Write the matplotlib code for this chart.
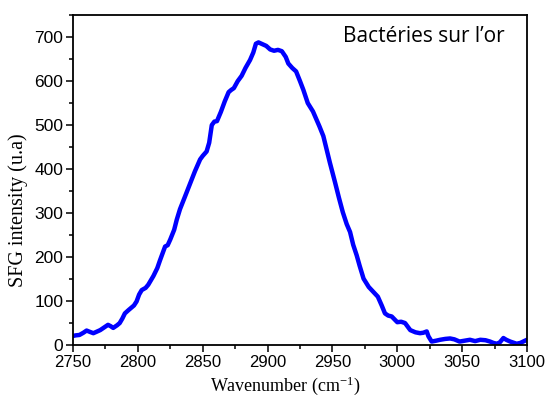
import matplotlib
matplotlib.use('Agg')
import matplotlib.pyplot as plt
from matplotlib.ticker import MultipleLocator

# SFG spectrum, C-H stretching region
wavenumber = [2749, 2752, 2755, 2758, 2760.5, 2763, 2765.7, 2768, 2771, 2774, 2777, 2779,
              2781, 2784, 2786, 2788, 2790, 2793, 2795, 2797, 2799, 2801, 2803, 2806,
              2808, 2810, 2812, 2815, 2817, 2819, 2821, 2823, 2825, 2828, 2830, 2832.5,
              2836, 2840, 2844, 2848, 2850, 2853, 2855, 2857, 2859, 2861, 2864, 2867,
              2870, 2872, 2874, 2877, 2880, 2883, 2886.5, 2889, 2891, 2893, 2896, 2899,
              2902, 2905, 2908, 2911, 2914, 2916, 2919, 2922, 2925, 2927.6, 2931, 2935,
              2940, 2943, 2948, 2952, 2955, 2958, 2961, 2963.6, 2966, 2968.7, 2971, 2974,
              2978, 2981.5, 2985, 2988, 2990.5, 2993, 2995.7, 2998, 3000, 3003, 3006,
              3010, 3014, 3017.5, 3020, 3022.7, 3024, 3026.5, 3030, 3033, 3037, 3040.7,
              3044, 3048, 3052, 3056, 3060, 3064, 3068, 3071.5, 3074, 3076.7, 3079,
              3081.8, 3084, 3087, 3090, 3092, 3095, 3098.5, 3100]
intensity = [20, 22, 23, 28, 33, 30, 27, 30, 34, 40, 46, 43,
             39, 45, 50, 60, 72, 80, 85, 90, 99, 115, 125, 130,
             137, 147, 157, 175, 192, 208, 224, 227, 240, 262, 285, 309,
             335, 365, 395, 422, 430, 440, 460, 500, 508, 509, 530, 554,
             575, 580, 584, 600, 612, 630, 648, 665, 685, 688, 684, 680,
             672, 669, 671, 668, 655, 640, 630, 622, 600, 580, 550, 531,
             497, 475, 415, 370, 335, 302, 275, 257, 228, 204, 180, 151,
             132, 121, 110, 90, 72, 67, 65, 58, 52, 53, 50,
             34, 29, 27, 28, 31, 20, 8, 10, 12, 14, 15,
             13, 8, 10, 12, 9, 12, 11, 8, 5, 3, 6,
             16, 12, 8, 5, 3, 5, 10, 12]

plt.rcParams['mathtext.default'] = 'regular'

fig = plt.figure(figsize=(5.5, 3.98), dpi=100)
ax = fig.add_axes([0.1327, 0.133, 0.8255, 0.829])

ax.plot(wavenumber, intensity, color='#0000ff', lw=3.2, solid_joinstyle='round',
        solid_capstyle='round')

ax.set_xlim(2750, 3100)
ax.set_ylim(0, 750)
ax.xaxis.set_major_locator(MultipleLocator(50))
ax.xaxis.set_minor_locator(MultipleLocator(25))
ax.yaxis.set_major_locator(MultipleLocator(100))
ax.yaxis.set_minor_locator(MultipleLocator(50))
ax.tick_params(which='both', direction='out', top=False, right=False, width=1.1,
               labelsize=12.5)
ax.tick_params(which='major', length=5)
ax.tick_params(which='minor', length=3)
ax.tick_params(axis='x', pad=2, labelsize=12)
ax.tick_params(axis='y', pad=2)
for lab in ax.get_xticklabels() + ax.get_yticklabels():
    lab.set_family('Liberation Sans')
for s in ax.spines.values():
    s.set_linewidth(1.3)

ax.set_xlabel('Wavenumber (cm$^{-1}$)', family='Liberation Serif', fontsize=13)
ax.set_ylabel('SFG intensity (u.a)', family='Liberation Serif', fontsize=14.5)
ax.xaxis.set_label_coords(0.467, -0.09)
ax.yaxis.set_label_coords(-0.099, 0.41)
ax.text(0.951, 0.935, 'Bactéries sur l’or', transform=ax.transAxes, ha='right', va='center',
        family='Open Sans', fontsize=15)

fig.savefig('out.png', dpi=100)
